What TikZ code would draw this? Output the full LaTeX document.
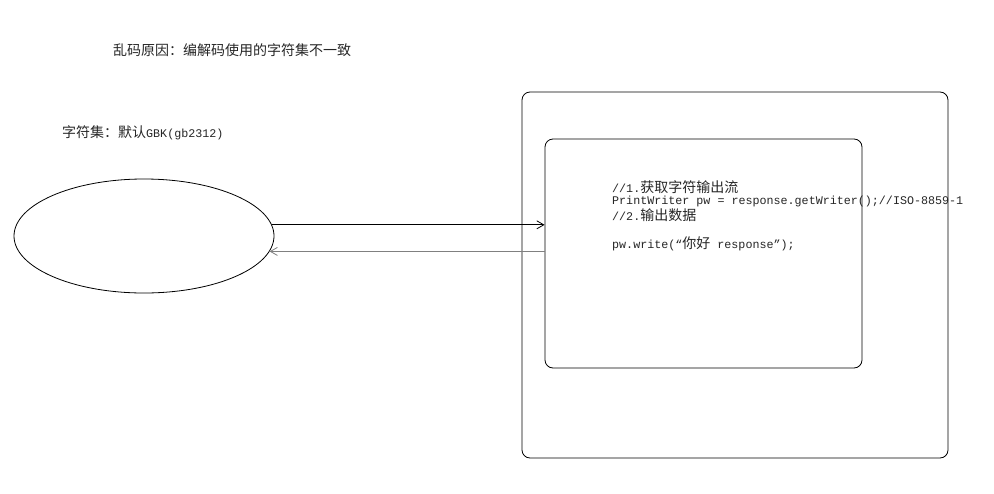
\documentclass[tikz,border=0pt]{standalone}
\usepackage{fontspec}
\setmainfont{Liberation Mono}
\setmonofont{Liberation Mono}
\newfontfamily\cjk{Noto Sans CJK SC}
\usetikzlibrary{arrows.meta,shapes.geometric}
\tikzset{
  box/.style={draw, line width=0.8pt, rounded corners=8pt, inner sep=0pt},
  ell/.style={draw, line width=0.8pt, ellipse, inner sep=0pt, minimum width=260pt, minimum height=114pt},
  lbl/.style={anchor=west, inner sep=0pt, font=\fontsize{11.7}{14}\selectfont\ttfamily, text=black!85},
  conn/.style={line width=0.8pt, -{Straight Barb[length=7pt,width=8pt]}},
}
\newcommand{\zh}[1]{{\cjk\fontsize{14}{14}\selectfont #1}}
\begin{document}
\begin{tikzpicture}[x=1pt,y=-1pt]
\useasboundingbox (0,0) rectangle (994,493);
\fill[white] (0,0) rectangle (994,493);
\node[lbl] (title) at (113,50) {\zh{乱码原因：编解码使用的字符集不一致}};
\node[lbl] (cs) at (62,133) {\zh{字符集：默认}GBK(gb2312)};
\node[ell] (client) at (144,236) {};
\node[box, minimum width=426pt, minimum height=366pt] (outer) at (735,275) {};
\node[box, minimum width=317pt, minimum height=229pt] (inner) at (703.5,253.5) {};
\node[lbl] (c1) at (612,187) {//1.\zh{获取字符输出流}};
\node[lbl] (c2) at (612,201) {PrintWriter pw = response.getWriter();//ISO-8859-1};
\node[lbl] (c3) at (612,215) {//2.\zh{输出数据}};
\node[lbl] (c4) at (612,244) {pw.write(“\zh{你好} response”);};
\draw[conn] (client.5.4) -- (client.5.4 -| inner.west);
\draw[conn, draw=black!50] (client.-7.3 -| inner.west) -- (client.-7.3);
\end{tikzpicture}
\end{document}
